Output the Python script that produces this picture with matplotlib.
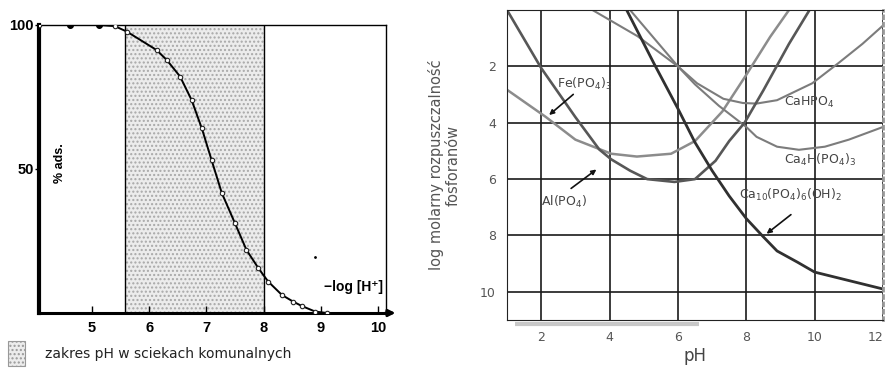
import matplotlib
matplotlib.use("Agg")
import matplotlib.pyplot as plt
from matplotlib.patches import Rectangle

# ---- left panel: % adsorption vs -log[H+]
ads_ph  = [4.08, 4.62, 5.12, 5.40, 5.61, 6.13, 6.31, 6.54, 6.74, 6.92, 7.09, 7.27,
           7.50, 7.70, 7.91, 8.08, 8.32, 8.52, 8.67, 8.90, 9.10]
ads_pct = [100, 100, 100, 99.6, 97.7, 91.3, 87.8, 82.1, 74.0, 64.1, 53.1, 41.6,
           31.1, 21.9, 15.5, 10.9, 6.25, 3.9, 2.4, 0.5, 0.0]
filled_ph  = [4.62, 5.12]
filled_pct = [100, 100]
range_lo, range_hi = 5.58, 8.0          # pH range in municipal sewage
left_xticks = [5, 6, 7, 8, 9, 10]
left_yticks = [50, 100]

# ---- right panel: log molar solubility of phosphates vs pH
ca10_ph = [4.50, 5.30, 6.00, 6.50, 7.00, 7.50, 8.00, 8.50, 8.90, 9.50, 10.0, 11.0, 12.0]
ca10_s  = [0.00, 1.90, 3.50, 4.70, 5.70, 6.60, 7.40, 8.05, 8.55, 8.95, 9.30, 9.60, 9.90]
al_ph   = [1.00, 2.00, 3.00, 3.70, 4.05, 4.60, 5.10, 5.90, 6.50, 7.10, 7.50, 7.95, 8.50, 9.25, 9.85]
al_s    = [0.00, 2.06, 3.80, 4.95, 5.30, 5.70, 6.00, 6.10, 6.00, 5.35, 4.65, 4.00, 2.85, 1.20, 0.00]
fe_ph   = [1.00, 2.13, 3.00, 4.05, 4.80, 5.80, 6.50, 7.30, 8.00, 8.70, 9.25]
fe_s    = [2.83, 3.79, 4.60, 5.10, 5.20, 5.10, 4.65, 3.60, 2.30, 0.95, 0.00]
cahpo4_ph = [3.50, 4.82, 6.00, 6.56, 7.33, 7.90, 8.30, 8.90, 9.93, 10.7, 11.4, 12.0]
cahpo4_s  = [0.00, 0.93, 2.00, 2.60, 3.15, 3.30, 3.32, 3.20, 2.60, 1.88, 1.20, 0.55]
ca4h_ph = [4.60, 5.30, 6.00, 6.50, 7.20, 8.00, 8.30, 8.90, 9.54, 10.3, 11.0, 12.0]
ca4h_s  = [0.00, 1.00, 2.00, 2.64, 3.40, 4.15, 4.50, 4.85, 4.96, 4.85, 4.60, 4.15]
right_xticks = [2, 4, 6, 8, 10, 12]
right_yticks = [2, 4, 6, 8, 10]

BOLD = ["Liberation Sans", "DejaVu Sans"]

fig = plt.figure(figsize=(8.87, 3.68), dpi=100)

# ---------------------------------------------------------------- left panel
ax = fig.add_axes([0.0443, 0.1495, 0.3910, 0.7826])
ax.set_xlim(4.08, 10.14)
ax.set_ylim(0, 100)
ax.axvspan(range_lo, range_hi, facecolor="#ececec", edgecolor="#a8a8a8",
           hatch="....", linewidth=0, zorder=0)
ax.axvline(range_lo, color="black", lw=1)
ax.axvline(range_hi, color="black", lw=1)
ax.plot(ads_ph, ads_pct, color="black", lw=1.4, marker="o", ms=3.2,
        mfc="white", mec="#222", mew=0.8, zorder=3)
ax.plot(filled_ph, filled_pct, "o", color="black", ms=4, zorder=4)
ax.plot([8.9], [19.5], ".", color="black", ms=2)
for s in ["top", "right"]:
    ax.spines[s].set_linewidth(1)
ax.spines["left"].set_linewidth(3)
ax.spines["bottom"].set_linewidth(2.2)
ax.set_xticks(left_xticks)
ax.set_yticks(left_yticks)
ax.tick_params(axis="x", direction="in", length=5, width=1, pad=6, labelsize=10.5)
ax.tick_params(axis="y", direction="out", length=3, width=1, pad=1, labelsize=10.5)
for lab in ax.get_xticklabels() + ax.get_yticklabels():
    lab.set_fontweight("bold")
    lab.set_family(BOLD)
ax.annotate("", xy=(1.035, 0), xytext=(0.99, 0), xycoords="axes fraction",
            arrowprops=dict(arrowstyle="-|>", color="black", lw=2, mutation_scale=10),
            annotation_clip=False)
ax.text(4.45, 52, "% ads.", rotation=90, ha="center", va="center",
        fontsize=9, fontweight="bold", family=BOLD)
ax.text(10.08, 9, "\u2212log [H\u207a]", ha="right", va="center",
        fontsize=10, fontweight="bold", family=BOLD)

# legend swatch below the left panel
fig.patches.append(Rectangle((0.009, 0.005), 0.019, 0.068, transform=fig.transFigure,
                             facecolor="#ececec", edgecolor="#999", hatch="....", lw=0.8))
fig.text(0.051, 0.037, "zakres pH w sciekach komunalnych", fontsize=10,
         color="#222", va="center")

# ---------------------------------------------------------------- right panel
bx = fig.add_axes([0.5716, 0.1304, 0.4239, 0.8424])
bx.set_xlim(1, 12)
bx.set_ylim(11, 0)
bx.set_xticks(right_xticks)
bx.set_yticks(right_yticks)
bx.grid(True, color="#1a1a1a", lw=1.2)
bx.set_axisbelow(True)
bx.tick_params(length=0, labelsize=9, labelcolor="#555", pad=8)
bx.get_xticklabels()[-1].set_ha("right")
bx.spines["right"].set_color("#999")
bx.spines["right"].set_linestyle(":")
bx.spines["right"].set_linewidth(2)
for s in ["left", "top", "bottom"]:
    bx.spines[s].set_color("#222")
# grey shadow under the left part of the bottom axis
bx.plot([0.02, 0.51], [-0.012, -0.012], transform=bx.transAxes, color="#c8c8c8",
        lw=3, clip_on=False, solid_capstyle="butt")
bx.plot(fe_ph, fe_s, color="#8c8c8c", lw=1.8)
bx.plot(cahpo4_ph, cahpo4_s, color="#7c7c7c", lw=1.5)
bx.plot(ca4h_ph, ca4h_s, color="#7c7c7c", lw=1.5)
bx.plot(al_ph, al_s, color="#575757", lw=1.9)
bx.plot(ca10_ph, ca10_s, color="#303030", lw=2)

lbl = dict(fontsize=9, color="#444")
bx.text(2.45, 2.75, "Fe(PO$_4$)$_3$", **lbl)
bx.text(9.1, 3.4, "CaHPO$_4$", **lbl)
bx.text(9.1, 5.46, "Ca$_4$H(PO$_4$)$_3$", **lbl)
bx.text(7.8, 6.7, "Ca$_{10}$(PO$_4$)$_6$(OH)$_2$", **lbl)
bx.text(2.0, 6.95, "Al(PO$_4$)", **lbl)
arr = dict(arrowstyle="-|>", color="#111", lw=1.2, mutation_scale=7)
bx.annotate("", xy=(2.17, 3.79), xytext=(3.0, 2.93), arrowprops=arr)
bx.annotate("", xy=(3.68, 5.6), xytext=(2.81, 6.39), arrowprops=arr)
bx.annotate("", xy=(8.53, 8.0), xytext=(9.37, 7.2), arrowprops=arr)

bx.set_xlabel("pH", fontsize=12, color="#444", labelpad=2)
bx.set_ylabel("log molarny rozpuszczalność\nfosforanów", fontsize=10.5,
              color="#555", labelpad=14, linespacing=1.1)

fig.savefig("out.png", dpi=100)
